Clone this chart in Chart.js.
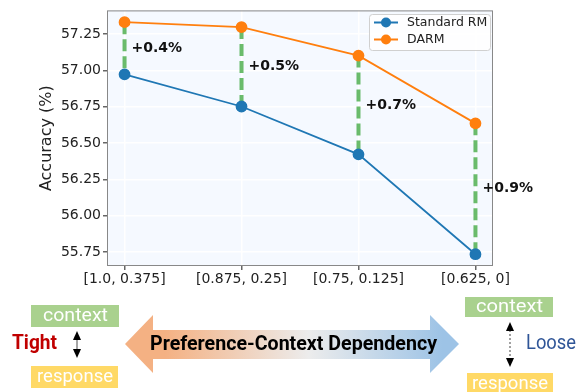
<!DOCTYPE html>
<html>
<head>
<meta charset="utf-8">
<script src="https://cdn.jsdelivr.net/npm/chart.js@4.4.1/dist/chart.umd.min.js"></script>
<style>
	html, body { margin: 0; padding: 0; background: #fff; }
	#wrap { width: 584px; height: 392px; }
</style>
</head>
<body>
<div id="wrap"><canvas id="chart-darm" width="584" height="392"></canvas></div>
<script>
// Chart data
const CATEGORIES = ["[1.0, 0.375]", "[0.875, 0.25]", "[0.75, 0.125]", "[0.625, 0]"];
const STANDARD_RM = [56.973, 56.752, 56.423, 55.736];
const DARM = [57.332, 57.298, 57.102, 56.636];
const GAIN_LABELS = ["+0.4%", "+0.5%", "+0.7%", "+0.9%"];
const Y_TICKS = [55.75, 56.0, 56.25, 56.5, 56.75, 57.0, 57.25];

const COLORS = {
	blue: "#1f77b4",
	orange: "#ff7f0e",
	gap: "rgba(44, 160, 44, 0.7)",
	plotBg: "#f5f9ff",
	spine: "#888888",
	text: "#222222",
};

const FONT = "DejaVu Sans";
const NOTE_FONT = "Roboto, 'Noto Sans', sans-serif";

const toPoints = (values) => values.map((v, i) => ({ x: i, y: v }));

//---------------------------------------------------------
// Plugins
//---------------------------------------------------------
const plotFrame = {
	id: "plotFrame",
	beforeDraw(chart) {
		const { ctx, chartArea: a } = chart;
		ctx.save();
		ctx.fillStyle = COLORS.plotBg;
		ctx.fillRect(a.left, a.top, a.right - a.left, a.bottom - a.top);
		ctx.restore();
	},
	beforeDatasetsDraw(chart) {
		// dashed gap lines between the two series
		const { ctx, scales } = chart;
		ctx.save();
		ctx.strokeStyle = COLORS.gap;
		ctx.lineWidth = 4;
		ctx.setLineDash([12, 5]);
		CATEGORIES.forEach((_, i) => {
			const x = scales.x.getPixelForValue(i);
			ctx.beginPath();
			ctx.moveTo(x, scales.y.getPixelForValue(DARM[i]));
			ctx.lineTo(x, scales.y.getPixelForValue(STANDARD_RM[i]));
			ctx.stroke();
		});
		ctx.restore();
	},
	afterDraw(chart) {
		const { ctx, chartArea: a, scales } = chart;
		ctx.save();
		// spines
		ctx.strokeStyle = COLORS.spine;
		ctx.lineWidth = 1;
		ctx.strokeRect(a.left + 0.5, a.top + 0.5, a.right - a.left - 1, a.bottom - a.top - 1);

		// gain labels
		ctx.fillStyle = "#111";
		ctx.font = `bold 14px '${FONT}'`;
		ctx.textAlign = "left";
		ctx.textBaseline = "middle";
		GAIN_LABELS.forEach((label, i) => {
			const x = scales.x.getPixelForValue(i);
			const y = scales.y.getPixelForValue((DARM[i] + STANDARD_RM[i]) / 2);
			ctx.fillText(label, x + 7, y);
		});

		// legend
		const lx = 369, ly = 14, lw = 121, lh = 36;
		ctx.fillStyle = "rgba(255,255,255,0.85)";
		ctx.strokeStyle = "#d0d0d0";
		ctx.lineWidth = 1;
		ctx.beginPath();
		ctx.roundRect(lx + 0.5, ly + 0.5, lw, lh, 3);
		ctx.fill();
		ctx.stroke();
		chart.data.datasets.forEach((ds, i) => {
			const y = ly + 8.5 + i * 17;
			ctx.strokeStyle = ds.borderColor;
			ctx.lineWidth = 2;
			ctx.beginPath();
			ctx.moveTo(lx + 5, y);
			ctx.lineTo(lx + 29, y);
			ctx.stroke();
			ctx.fillStyle = ds.borderColor;
			ctx.beginPath();
			ctx.arc(lx + 17, y, 5, 0, Math.PI * 2);
			ctx.fill();
			ctx.fillStyle = COLORS.text;
			ctx.font = `12.5px '${FONT}'`;
			ctx.textAlign = "left";
			ctx.textBaseline = "middle";
			ctx.fillText(ds.label, lx + 38, y + 0.5);
		});
		ctx.restore();

		drawDependencyNote(ctx);
	},
};

//---------------------------------------------------------
// Bottom note: tight vs loose dependency
//---------------------------------------------------------
// Text squeezed/stretched horizontally to the width it has in the figure
function fittedText(ctx, text, cx, cy, width, font, color) {
	ctx.save();
	ctx.font = font;
	ctx.fillStyle = color;
	ctx.textAlign = "center";
	ctx.textBaseline = "middle";
	const w = ctx.measureText(text).width;
	ctx.translate(cx, cy);
	ctx.scale(width / w, 1);
	ctx.fillText(text, 0, 0);
	ctx.restore();
}

function arrowHead(ctx, x, y, dir) {
	ctx.beginPath();
	ctx.moveTo(x, y);
	ctx.lineTo(x - 4, y - dir * 9);
	ctx.lineTo(x + 4, y - dir * 9);
	ctx.closePath();
	ctx.fill();
}

function drawDependencyNote(ctx) {
	ctx.save();
	const boxFont = `19px ${NOTE_FONT}`;

	// left side
	ctx.fillStyle = "#a9d18e";
	ctx.fillRect(31, 305, 88, 22);
	fittedText(ctx, "context", 75.5, 316, 65, boxFont, "#fff");
	ctx.fillStyle = "#ffd966";
	ctx.fillRect(31, 366, 87, 22);
	fittedText(ctx, "response", 75, 377, 76, boxFont, "#fff");
	fittedText(ctx, "Tight", 34.5, 344, 45, `bold 20px ${NOTE_FONT}`, "#c00000");
	ctx.strokeStyle = "#888";
	ctx.lineWidth = 1.5;
	ctx.beginPath();
	ctx.moveTo(77, 337);
	ctx.lineTo(77, 352);
	ctx.stroke();
	ctx.fillStyle = "#000";
	arrowHead(ctx, 77, 331, -1);
	arrowHead(ctx, 77, 358, 1);

	// big double arrow
	const grad = ctx.createLinearGradient(125, 0, 459, 0);
	grad.addColorStop(0, "#f4b183");
	grad.addColorStop(0.12, "#f4b183");
	grad.addColorStop(0.55, "#ececec");
	grad.addColorStop(0.95, "#9dc3e6");
	grad.addColorStop(1, "#9dc3e6");
	ctx.fillStyle = grad;
	ctx.beginPath();
	ctx.moveTo(125, 344);
	ctx.lineTo(153, 315);
	ctx.lineTo(153, 330);
	ctx.lineTo(430, 330);
	ctx.lineTo(430, 315);
	ctx.lineTo(459, 344);
	ctx.lineTo(430, 373);
	ctx.lineTo(430, 359);
	ctx.lineTo(153, 359);
	ctx.lineTo(153, 373);
	ctx.closePath();
	ctx.fill();
	fittedText(ctx, "Preference-Context Dependency", 293.5, 345, 287, `bold 20px ${NOTE_FONT}`, "#000");

	// right side
	ctx.fillStyle = "#a9d18e";
	ctx.fillRect(465, 297, 88, 20);
	fittedText(ctx, "context", 509.5, 307, 67, boxFont, "#fff");
	ctx.fillStyle = "#ffd966";
	ctx.fillRect(467, 373, 86, 22);
	fittedText(ctx, "response", 510, 384, 76, boxFont, "#fff");
	fittedText(ctx, "Loose", 551, 344, 50, `20px ${NOTE_FONT}`, "#2f5597");
	ctx.strokeStyle = "#444";
	ctx.lineWidth = 1;
	ctx.setLineDash([2, 2]);
	ctx.beginPath();
	ctx.moveTo(510, 330);
	ctx.lineTo(510, 359);
	ctx.stroke();
	ctx.setLineDash([]);
	ctx.fillStyle = "#000";
	arrowHead(ctx, 510, 322, -1);
	arrowHead(ctx, 510, 367, 1);

	ctx.restore();
}

//---------------------------------------------------------
// Chart
//---------------------------------------------------------
const seriesStyle = (color) => ({
	borderColor: color,
	backgroundColor: color,
	borderWidth: 1.8,
	pointRadius: 5,
	pointHoverRadius: 5,
	pointBackgroundColor: color,
	pointBorderColor: color,
	tension: 0,
	fill: false,
});

const CHART_DATA = {
	datasets: [
		{ label: "Standard RM", data: toPoints(STANDARD_RM), ...seriesStyle(COLORS.blue) },
		{ label: "DARM", data: toPoints(DARM), ...seriesStyle(COLORS.orange) },
	],
};

const CHART_CONFIG = {
	type: "line",
	data: CHART_DATA,
	options: {
		responsive: false,
		animation: false,
		layout: {
			padding: { left: 0, top: 7, right: 91, bottom: 96 },
		},
		scales: {
			x: {
				type: "linear",
				min: -0.15,
				max: 3.15,
				afterBuildTicks: (axis) => {
					axis.ticks = CATEGORIES.map((_, i) => ({ value: i }));
				},
				afterFit: (axis) => {
					axis.height = 30;
				},
				border: { display: false },
				grid: { color: "#ffffff", lineWidth: 1.5, tickColor: "#666", tickLength: 4 },
				ticks: {
					color: COLORS.text,
					font: { family: FONT, size: 14 },
					padding: 1,
					maxRotation: 0,
					callback: (value) => CATEGORIES[value],
				},
			},
			y: {
				min: 55.655,
				max: 57.413,
				afterBuildTicks: (axis) => {
					axis.ticks = Y_TICKS.map((v) => ({ value: v }));
				},
				afterFit: (axis) => {
					axis.width = 107;
				},
				border: { display: false },
				grid: { color: "#ffffff", lineWidth: 1.5, tickColor: "#666", tickLength: 4 },
				title: {
					display: true,
					text: "Accuracy (%)",
					color: COLORS.text,
					font: { family: FONT, size: 16 },
					padding: { top: 37, bottom: 0 },
				},
				ticks: {
					color: COLORS.text,
					font: { family: FONT, size: 14 },
					padding: 2,
					callback: (value) => value.toFixed(2),
				},
			},
		},
		plugins: {
			legend: { display: false },
			tooltip: { enabled: false },
		},
	},
	plugins: [plotFrame],
};

new Chart(document.getElementById("chart-darm"), CHART_CONFIG);
</script>
</body>
</html>
